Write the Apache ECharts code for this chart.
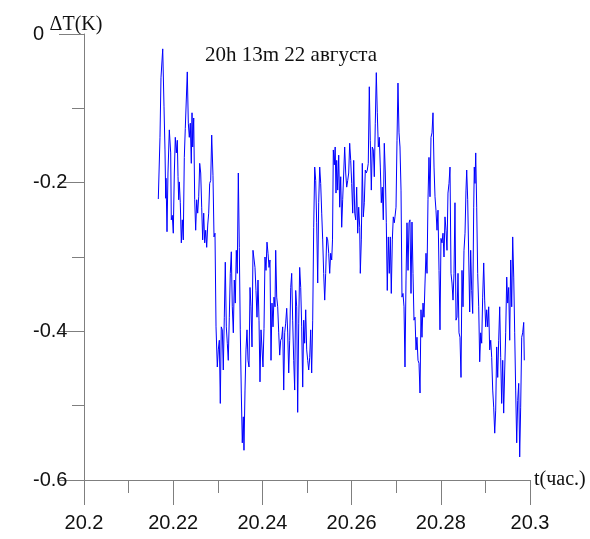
<!DOCTYPE html>
<html>
<head>
<meta charset="utf-8">
<script src="https://cdn.jsdelivr.net/npm/echarts@6/dist/echarts.min.js"></script>
<style>
html,body{margin:0;padding:0;background:#fff;}
#chart{width:590px;height:539px;}
</style>
</head>
<body>
<div id="chart"></div>
<script>
var titleText = '20h 13m 22 августа';
var xName = 't(час.)';
var yName = 'ΔT(K)';
var xTicks = [20.2, 20.22, 20.24, 20.26, 20.28, 20.3];
var yTicks = [-0.6, -0.4, -0.2, 0];

var timeValues = [
20.21666,20.21704,20.21726,20.21765,20.21794,20.21816,20.21832,20.21839,20.21861,20.21883,
20.21913,20.21944,20.21957,20.21980,20.22002,20.22025,20.22047,20.22070,20.22092,20.22108,
20.22123,20.22137,20.22159,20.22182,20.22204,20.22226,20.22249,20.22271,20.22294,20.22316,
20.22339,20.22361,20.22383,20.22406,20.22422,20.22437,20.22460,20.22482,20.22504,20.22527,
20.22549,20.22572,20.22594,20.22617,20.22639,20.22661,20.22684,20.22706,20.22729,20.22751,
20.22774,20.22796,20.22818,20.22841,
20.22863,20.22892,20.22915,20.22937,20.22960,20.22989,20.23011,20.23034,20.23056,20.23078,
20.23101,20.23123,20.23146,20.23168,20.23191,20.23213,20.23235,20.23258,20.23280,20.23303,
20.23325,20.23348,20.23370,20.23392,20.23415,20.23437,20.23460,20.23482,20.23504,20.23527,
20.23549,20.23572,20.23587,20.23610,20.23632,20.23655,20.23677,20.23700,20.23722,20.23744,
20.23767,20.23789,20.23812,20.23834,20.23856,20.23879,20.23901,20.23924,20.23946,20.23969,
20.23991,20.24013,20.24036,20.24058,20.24081,20.24103,20.24126,20.24148,20.24170,
20.24193,20.24215,20.24238,20.24260,20.24283,20.24298,20.24321,20.24343,20.24366,20.24388,
20.24410,20.24433,20.24455,20.24478,20.24500,20.24522,20.24545,20.24567,20.24590,20.24612,
20.24635,20.24657,20.24679,20.24702,20.24724,20.24747,20.24769,20.24791,20.24814,20.24836,
20.24859,20.24881,20.24904,20.24926,20.24948,20.24971,20.24993,20.25016,20.25038,20.25061,
20.25083,20.25105,20.25128,20.25150,20.25173,20.25195,20.25217,20.25240,20.25262,20.25285,
20.25307,20.25330,20.25352,20.25374,20.25397,20.25419,20.25442,20.25464,20.25487,20.25509,
20.25531,
20.25554,20.25572,20.25590,20.25612,20.25632,20.25650,20.25666,20.25688,20.25711,20.25733,
20.25756,20.25778,20.25800,20.25823,20.25845,20.25868,20.25890,20.25913,20.25935,20.25957,
20.25980,20.26002,20.26025,20.26047,20.26070,20.26092,20.26114,20.26137,20.26159,20.26182,
20.26195,20.26218,20.26240,20.26262,20.26285,20.26307,20.26330,20.26352,20.26374,20.26397,
20.26419,20.26442,20.26464,20.26487,20.26509,20.26531,20.26554,20.26576,20.26599,20.26621,
20.26644,20.26666,20.26688,20.26711,20.26733,20.26756,20.26778,20.26800,20.26823,20.26845,
20.26868,20.26890,20.26913,20.26935,20.26957,
20.26973,20.26996,20.27018,20.27040,20.27063,20.27085,20.27108,20.27130,20.27152,20.27175,
20.27197,20.27220,20.27242,20.27265,20.27287,20.27309,20.27332,20.27354,20.27377,20.27399,
20.27422,20.27444,20.27466,20.27489,20.27511,20.27534,20.27556,20.27578,20.27601,20.27623,
20.27646,20.27668,20.27691,20.27713,20.27735,20.27758,20.27780,20.27803,20.27825,20.27848,
20.27870,20.27892,20.27915,20.27937,20.27960,20.27982,20.28004,20.28027,20.28049,20.28072,
20.28094,20.28117,20.28139,20.28161,20.28184,20.28206,
20.28229,20.28251,20.28274,20.28296,20.28318,20.28341,20.28363,20.28386,20.28408,20.28430,
20.28453,20.28475,20.28498,20.28520,20.28543,20.28565,20.28581,20.28603,20.28626,20.28648,
20.28670,20.28693,20.28715,20.28738,20.28751,20.28767,20.28783,20.28805,20.28827,20.28850,
20.28872,20.28895,20.28917,20.28939,20.28962,20.28984,20.29007,20.29029,20.29052,20.29074,
20.29096,20.29119,20.29141,20.29164,20.29186,20.29209,20.29231,20.29253,20.29276,20.29298,
20.29321,20.29343,20.29365,20.29388,20.29410,20.29433,20.29455,20.29478,20.29500,20.29522,
20.29545,20.29567,20.29590,20.29612,20.29635,20.29657,20.29679,20.29702,20.29724,20.29747,
20.29769,20.29791,20.29814,20.29836,20.29859,20.29872
];

var deltaT = [
-0.222,-0.139,-0.059,-0.020,-0.098,-0.156,-0.221,-0.194,-0.266,-0.187,
-0.129,-0.160,-0.250,-0.244,-0.268,-0.187,-0.139,-0.160,-0.143,-0.192,
-0.223,-0.199,-0.227,-0.281,-0.250,-0.277,-0.166,-0.127,-0.129,-0.051,
-0.120,-0.139,-0.120,-0.174,-0.106,-0.152,-0.113,-0.223,-0.264,-0.223,
-0.241,-0.219,-0.174,-0.187,-0.233,-0.277,-0.241,-0.281,-0.264,-0.287,
-0.257,-0.241,-0.201,-0.197,
-0.136,-0.190,-0.273,-0.268,-0.394,-0.448,-0.425,-0.412,-0.497,-0.394,
-0.398,-0.452,-0.381,-0.307,-0.394,-0.416,-0.439,-0.381,-0.322,-0.293,
-0.367,-0.402,-0.331,-0.362,-0.291,-0.322,-0.187,-0.287,-0.398,-0.483,
-0.550,-0.515,-0.560,-0.479,-0.425,-0.398,-0.439,-0.448,-0.341,-0.367,
-0.421,-0.291,-0.293,-0.314,-0.345,-0.381,-0.331,-0.385,-0.468,-0.398,
-0.398,-0.448,-0.396,-0.300,-0.318,-0.280,-0.295,-0.314,-0.304,
-0.439,-0.362,-0.394,-0.354,-0.367,-0.291,-0.354,-0.367,-0.402,-0.432,
-0.412,-0.409,-0.394,-0.479,-0.402,-0.389,-0.369,-0.401,-0.456,-0.412,
-0.341,-0.322,-0.385,-0.439,-0.479,-0.345,-0.367,-0.509,-0.389,-0.314,
-0.341,-0.394,-0.475,-0.385,-0.416,-0.371,-0.425,-0.439,-0.452,-0.435,
-0.398,-0.456,-0.385,-0.260,-0.179,-0.197,-0.254,-0.335,-0.227,-0.179,
-0.201,-0.241,-0.277,-0.322,-0.358,-0.322,-0.273,-0.277,-0.295,-0.322,
-0.295,
-0.304,-0.277,-0.156,-0.176,-0.152,-0.214,-0.170,-0.210,-0.163,-0.233,
-0.192,-0.260,-0.223,-0.187,-0.152,-0.187,-0.206,-0.197,-0.187,-0.147,
-0.170,-0.201,-0.241,-0.170,-0.241,-0.250,-0.206,-0.268,-0.233,-0.260,
-0.322,-0.277,-0.174,-0.246,-0.227,-0.183,-0.187,-0.183,-0.174,-0.071,
-0.143,-0.210,-0.152,-0.156,-0.192,-0.120,-0.052,-0.106,-0.152,-0.139,
-0.179,-0.227,-0.206,-0.250,-0.147,-0.187,-0.254,-0.345,-0.273,-0.322,
-0.273,-0.349,-0.277,-0.246,-0.254,
-0.246,-0.233,-0.143,-0.066,-0.133,-0.152,-0.210,-0.354,-0.349,-0.367,
-0.448,-0.331,-0.254,-0.318,-0.254,-0.250,-0.349,-0.253,-0.322,-0.385,
-0.381,-0.425,-0.408,-0.439,-0.443,-0.483,-0.371,-0.408,-0.362,-0.381,
-0.335,-0.295,-0.322,-0.223,-0.166,-0.219,-0.139,-0.133,-0.106,-0.179,
-0.219,-0.237,-0.264,-0.237,-0.318,-0.398,-0.275,-0.281,-0.268,-0.300,
-0.246,-0.264,-0.291,-0.214,-0.201,-0.179,
-0.322,-0.335,-0.358,-0.322,-0.227,-0.385,-0.381,-0.322,-0.402,-0.408,
-0.462,-0.318,-0.367,-0.291,-0.268,-0.210,-0.183,-0.223,-0.300,-0.374,
-0.291,-0.345,-0.376,-0.233,-0.179,-0.201,-0.160,-0.233,-0.322,-0.367,
-0.441,-0.402,-0.416,-0.354,-0.308,-0.358,-0.394,-0.371,-0.394,-0.367,
-0.425,-0.412,-0.435,-0.479,-0.502,-0.537,-0.506,-0.421,-0.462,-0.412,
-0.367,-0.435,-0.497,-0.439,-0.510,-0.452,-0.402,-0.327,-0.362,-0.341,
-0.412,-0.304,-0.367,-0.273,-0.327,-0.402,-0.479,-0.550,-0.493,-0.470,
-0.569,-0.502,-0.408,-0.402,-0.388,-0.439
];

var seriesData = timeValues.map(function (t, i) { return [t, deltaT[i]]; });

var axisGray = '#7f7f7f';
var chart = echarts.init(document.getElementById('chart'), null, {renderer: 'canvas'});
chart.setOption({
  animation: false,
  backgroundColor: '#ffffff',
  title: {
    text: titleText,
    left: 200,
    top: 40,
    textStyle: {fontFamily: 'Liberation Serif', fontWeight: 'normal', fontSize: 21, color: '#111'}
  },
  grid: {left: 84, right: 60, top: 34, bottom: 59, containLabel: false},
  xAxis: {
    type: 'value',
    min: xTicks[0],
    max: xTicks[xTicks.length - 1],
    interval: 0.02,
    name: xName,
    nameLocation: 'end',
    nameGap: 4,
    nameMoveOverlap: false,
    nameTextStyle: {fontFamily: 'Liberation Serif', fontSize: 20, color: '#111', verticalAlign: 'middle', padding: [2, 0, 0, 0]},
    axisLine: {show: true, onZero: false, lineStyle: {color: axisGray, width: 1}},
    axisTick: {show: true, length: 25, lineStyle: {color: axisGray}},
    minorTick: {show: true, splitNumber: 2, length: 13, lineStyle: {color: axisGray}},
    splitLine: {show: false},
    minorSplitLine: {show: false},
    axisLabel: {margin: 33, fontFamily: 'Liberation Sans', fontSize: 20, color: '#111',
      formatter: function (v) { return String(Math.round(v * 100) / 100); }}
  },
  yAxis: {
    type: 'value',
    min: yTicks[0],
    max: yTicks[yTicks.length - 1],
    interval: 0.2,
    name: yName,
    nameLocation: 'end',
    nameGap: 19,
    nameMoveOverlap: false,
    nameTextStyle: {fontFamily: 'Liberation Serif', fontSize: 20, color: '#111', align: 'center', verticalAlign: 'top', padding: [0, 16, 0, 0]},
    axisLine: {show: true, onZero: false, lineStyle: {color: axisGray, width: 1}},
    axisTick: {show: true, length: 25, lineStyle: {color: axisGray}},
    minorTick: {show: true, splitNumber: 2, length: 12, lineStyle: {color: axisGray}},
    splitLine: {show: false},
    minorSplitLine: {show: false},
    axisLabel: {margin: 51, align: 'left', fontFamily: 'Liberation Sans', fontSize: 20, color: '#111',
      formatter: function (v) { return String(Math.round(v * 10) / 10); }}
  },
  series: [{
    type: 'line',
    data: seriesData,
    showSymbol: false,
    symbol: 'none',
    lineStyle: {color: '#0000ff', width: 1},
    itemStyle: {color: '#0000ff'}
  }]
});
</script>
</body>
</html>
